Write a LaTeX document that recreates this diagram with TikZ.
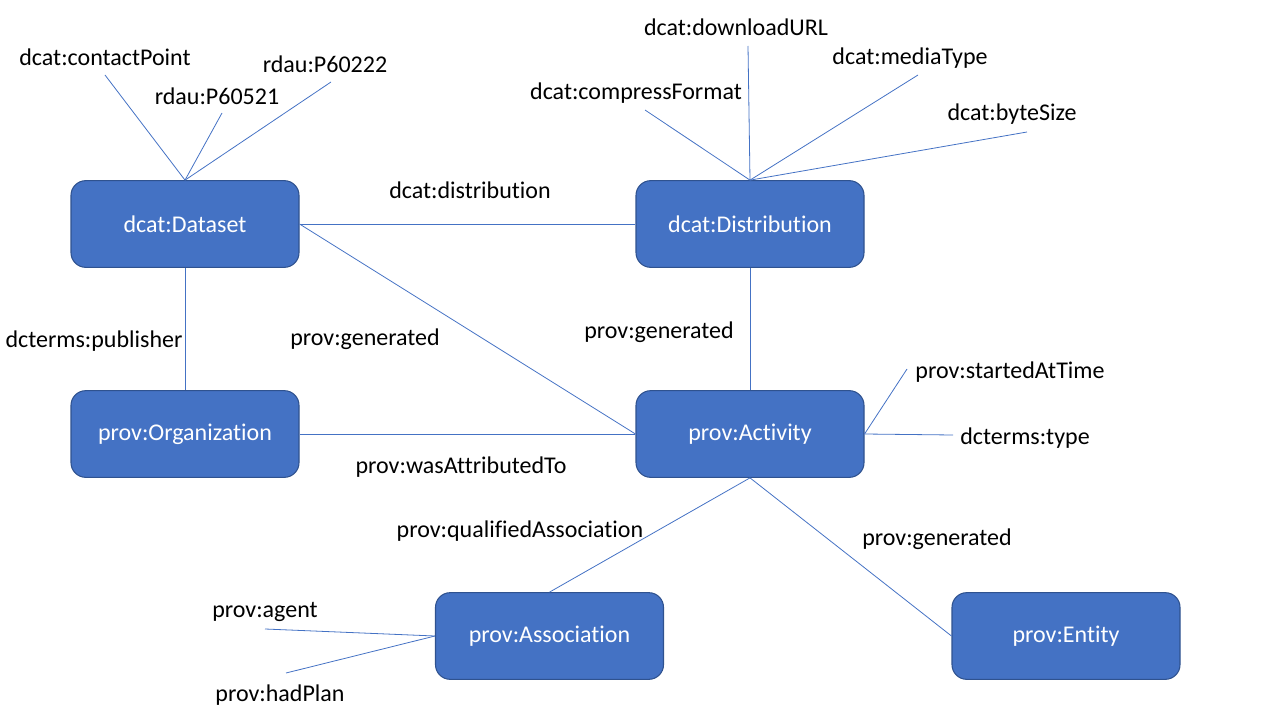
\documentclass[tikz,border=0pt]{standalone}
\usepackage{fontspec}
\setmainfont{Carlito}[Ligatures=NoCommon]
\usetikzlibrary{positioning}
\definecolor{boxblue}{HTML}{4472C4}
\definecolor{boxedge}{HTML}{2F528F}
\tikzset{
classbox/.style={
  rectangle,
  rounded corners=11pt,
  fill=boxblue,
  draw=boxedge,
  line width=0.8pt,
  text=white,
  minimum width=171pt,
  minimum height=65pt,
  font=\fontsize{18}{22}\selectfont
  },
proplabel/.style={
  font=\fontsize{18}{22}\selectfont,
  inner sep=0pt
  },
link/.style={
  draw=boxblue,
  line width=0.6pt
  }
}

\begin{document}
\begin{tikzpicture}[x=0.75pt, y=-0.75pt]
  \useasboundingbox (0,0) rectangle (1280,720);

  % classes
  \node[classbox] (dataset)      at (185,224)    {dcat:Dataset};
  \node[classbox] (distribution) at (750,224)    {dcat:Distribution};
  \node[classbox] (organization) at (185,434)    {prov:Organization};
  \node[classbox] (activity)     at (750,434)    {prov:Activity};
  \node[classbox] (association)  at (549.5,636)  {prov:Association};
  \node[classbox] (entity)       at (1066,636)   {prov:Entity};

  % free ends of the property lines
  \coordinate (contactend)  at (105,75);
  \coordinate (p60521end)   at (222,113);
  \coordinate (p60222end)   at (331,82);
  \coordinate (compressend) at (645,110);
  \coordinate (downloadend) at (748,46);
  \coordinate (mediaend)    at (918,75);
  \coordinate (bytesend)    at (1027,132);
  \coordinate (startedend)  at (907,369);
  \coordinate (typeend)     at (953,435);
  \coordinate (agentend)    at (265,629);
  \coordinate (planend)     at (286,673);

  % property labels
  \node[proplabel] (contactlbl)  at (105,57)  {dcat:contactPoint};
  \node[proplabel] (p60521lbl)   at (217,96)  {rdau:P60521};
  \node[proplabel] (p60222lbl)   at (325,64)  {rdau:P60222};
  \node[proplabel] (downloadlbl) at (736,27)  {dcat:downloadURL};
  \node[proplabel] (compresslbl) at (636,93)  {dcat:compressFormat};
  \node[proplabel] (medialbl)    at (910,58)  {dcat:mediaType};
  \node[proplabel] (byteslbl)    at (1012,114) {dcat:byteSize};
  \node[proplabel] (distlbl)     at (470,190) {dcat:distribution};
  \node[proplabel] (gen1lbl)     at (365,339) {prov:generated};
  \node[proplabel] (publbl)      at (94,341)  {dcterms:publisher};
  \node[proplabel] (gen2lbl)     at (659,332) {prov:generated};
  \node[proplabel] (attriblbl)   at (461,467) {prov:wasAttributedTo};
  \node[proplabel] (startedlbl)  at (1010,372) {prov:startedAtTime};
  \node[proplabel] (typelbl)     at (1025,438) {dcterms:type};
  \node[proplabel] (qualiflbl)   at (520,531) {prov:qualifiedAssociation};
  \node[proplabel] (gen3lbl)     at (937,539) {prov:generated};
  \node[proplabel] (agentlbl)    at (265,612) {prov:agent};
  \node[proplabel] (planlbl)     at (280,695) {prov:hadPlan};

  % dataset
  \draw[link] (dataset.north) -- (contactend);
  \draw[link] (dataset.north) -- (p60521end);
  \draw[link] (dataset.north) -- (p60222end);
  \draw[link] (dataset.east) -- (distribution.west);
  \draw[link] (dataset.east) -- (activity.west);
  \draw[link] (dataset.south) -- (organization.north);

  % distribution
  \draw[link] (distribution.north) -- (compressend);
  \draw[link] (distribution.north) -- (downloadend);
  \draw[link] (distribution.north) -- (mediaend);
  \draw[link] (distribution.north) -- (bytesend);
  \draw[link] (distribution.south) -- (activity.north);

  % activity
  \draw[link] (organization.east) -- (activity.west);
  \draw[link] (activity.east) -- (startedend);
  \draw[link] (activity.east) -- (typeend);
  \draw[link] (activity.south) -- (association.north);
  \draw[link] (activity.south) -- (entity.west);

  % association
  \draw[link] (association.west) -- (agentend);
  \draw[link] (association.west) -- (planend);

\end{tikzpicture}
\end{document}
